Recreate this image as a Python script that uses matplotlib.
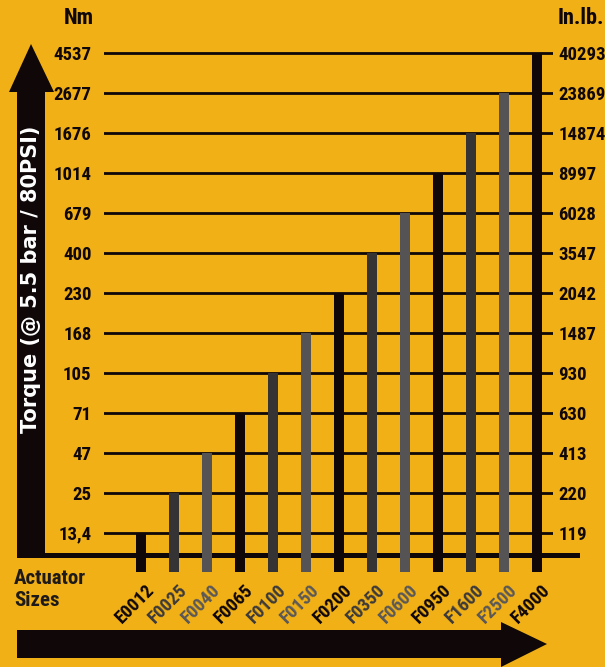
import matplotlib
matplotlib.use("Agg")
import matplotlib.pyplot as plt
from matplotlib.patches import Polygon, Rectangle

# ---- data ----
sizes = ["E0012", "F0025", "F0040", "F0065", "F0100", "F0150", "F0200",
         "F0350", "F0600", "F0950", "F1600", "F2500", "F4000"]
torque_nm = ["13,4", "25", "47", "71", "105", "168", "230",
             "400", "679", "1014", "1676", "2677", "4537"]
torque_inlb = ["119", "220", "413", "630", "930", "1487", "2042",
               "3547", "6028", "8997", "14874", "23869", "40293"]
# each actuator reaches its own torque level on the (evenly spaced) scale
levels = list(range(len(sizes)))

BG = "#F0B016"
BLACK = "#0F0708"
bar_colors = [BLACK, "#363334", "#555354"]
label_colors = [BLACK, "#3C3A3A", "#5A5858"]

FONT = ["Roboto Condensed", "Roboto", "DejaVu Sans"]
plt.rcParams["font.family"] = FONT

W, H = 605, 667
fig = plt.figure(figsize=(W / 100, H / 100), dpi=100, facecolor=BG)

# background layer in pixel coordinates for arrows / frame
bg = fig.add_axes([0, 0, 1, 1], zorder=0)
bg.set_xlim(0, W)
bg.set_ylim(H, 0)
bg.axis("off")
bg.set_facecolor(BG)

# up arrow (y axis)
bg.add_patch(Rectangle((17, 88), 28, 470, color=BLACK, lw=0))
bg.add_patch(Polygon([(9, 92), (31, 44), (54, 92)], color=BLACK, lw=0))
# baseline
bg.add_patch(Rectangle((17, 553), 563, 5, color=BLACK, lw=0))
# bottom arrow (x axis)
bg.add_patch(Rectangle((17, 630), 486, 28, color=BLACK, lw=0))
bg.add_patch(Polygon([(501, 622), (547, 644), (501, 667)], color=BLACK, lw=0))

bg.text(31, 279, "Torque (@ 5.5 bar / 80PSI)", rotation=90, color="white",
        fontsize=15, fontweight="bold", family=["DejaVu Sans"],
        ha="center", va="center")
bg.text(79, 18, "Nm", fontsize=16, fontweight="bold", color=BLACK,
        ha="center", va="center")
bg.text(558, 18, "In.lb.", fontsize=16, fontweight="bold", color=BLACK,
        ha="left", va="center")
bg.text(14, 589, "Actuator\nSizes", fontsize=15, fontweight="bold",
        color="#1E1A1A", ha="left", va="center", linespacing=1.2)

# main chart axes
left_px, right_px, top_px, bot_px = 104, 553, 45, 572
ax = fig.add_axes([left_px / W, (H - bot_px) / H,
                   (right_px - left_px) / W, (bot_px - top_px) / H], zorder=1)
ax.patch.set_alpha(0)
x0 = -37 / 33
ax.set_xlim(x0, x0 + (right_px - left_px) / 33)
ax.set_ylim(-0.98, 12.2)

for lv in levels:
    ax.axhline(lv, color=BLACK, lw=2, zorder=1)

bottom = -0.98
heights = [lv - bottom for lv in levels]
ax.bar(range(len(sizes)), heights, bottom=bottom, width=0.3,
       color=[bar_colors[i % 3] for i in range(len(sizes))], zorder=2)

ax.set_yticks(levels)
ax.set_yticklabels(torque_nm)
ax.tick_params(axis="y", length=0, pad=9, labelsize=13.5)
for t in ax.get_yticklabels():
    t.set_fontweight("bold")
    t.set_color(BLACK)

ax2 = ax.twinx()
ax2.set_ylim(ax.get_ylim())
ax2.set_yticks(levels)
ax2.set_yticklabels(torque_inlb)
ax2.tick_params(axis="y", length=0, pad=4, labelsize=13.5)
for t in ax2.get_yticklabels():
    t.set_fontweight("bold")
    t.set_color(BLACK)

ax.set_xticks([])
for a in (ax, ax2):
    for s in a.spines.values():
        s.set_visible(False)

for i, name in enumerate(sizes):
    ax.text(i + 0.12, bottom - 0.22, name, rotation=45, rotation_mode="anchor",
            ha="right", va="top", fontsize=13.5, fontweight="bold",
            color=label_colors[i % 3], clip_on=False)

fig.savefig("out.png", dpi=100, facecolor=BG)
